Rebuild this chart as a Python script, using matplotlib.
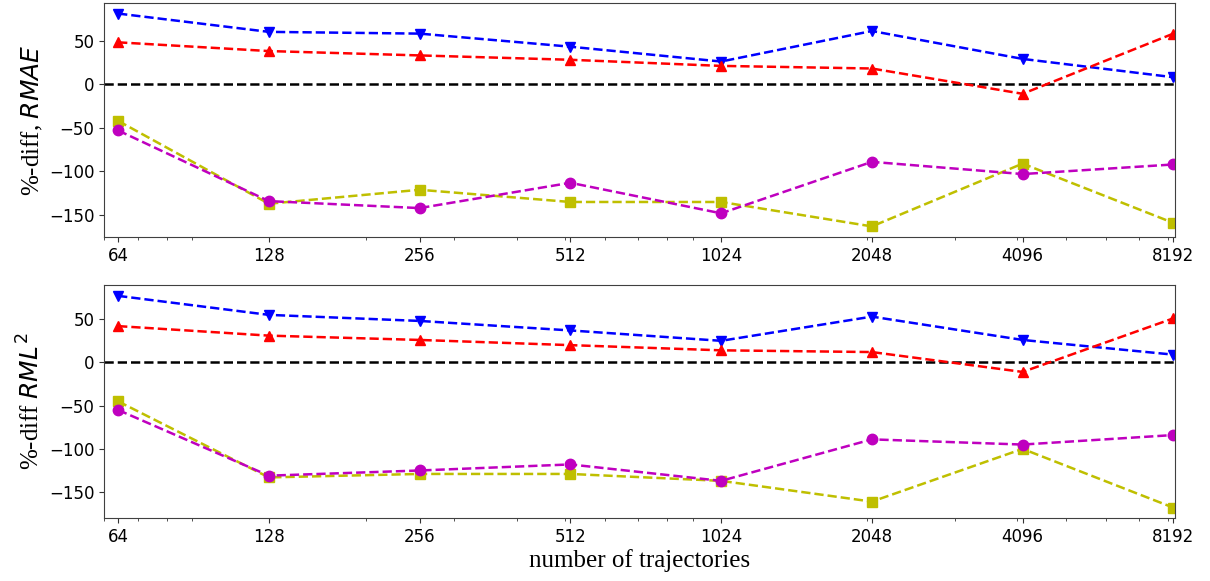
import matplotlib
matplotlib.use("Agg")
import matplotlib.pyplot as plt
from matplotlib.ticker import NullFormatter

n_traj = [64, 128, 256, 512, 1024, 2048, 4096, 8192]
tick_labels = ["64", "128", "256", "512", "1024", "2048", "4096", "8192"]

# top panel: %-diff RMAE
rmae_blue = [81, 60, 58, 43, 26, 61, 29, 8]
rmae_red = [48, 38, 33, 28, 21, 18, -11, 58]
rmae_yellow = [-42, -137, -121, -135, -135, -163, -91, -159]
rmae_magenta = [-53, -134, -142, -113, -148, -89, -103, -92]

# bottom panel: %-diff RML^2
rml_blue = [77, 55, 48, 37, 25, 53, 26, 9]
rml_red = [42, 31, 26, 20, 14, 12, -11, 51]
rml_yellow = [-45, -133, -129, -129, -137, -161, -100, -168]
rml_magenta = [-55, -131, -125, -118, -137, -89, -95, -84]

fig = plt.figure(figsize=(12.1, 5.81), dpi=100)
ax1 = fig.add_axes([0.086, 0.592, 0.885, 0.403])
ax2 = fig.add_axes([0.086, 0.108, 0.885, 0.401])

lw = 1.8
ms = 7.5

def draw(ax, b, r, y, m, ylabel):
    ax.axhline(0, color="k", linestyle="--", linewidth=lw)
    ax.plot(n_traj, b, "b--v", linewidth=lw, markersize=ms)
    ax.plot(n_traj, r, "r--^", linewidth=lw, markersize=ms)
    ax.plot(n_traj, y, "y--s", linewidth=lw, markersize=ms)
    ax.plot(n_traj, m, "m--o", linewidth=lw, markersize=ms)
    ax.set_xscale("log")
    ax.set_xticks(n_traj)
    ax.set_xticklabels(tick_labels)
    ax.xaxis.set_minor_formatter(NullFormatter())
    ax.set_xlim(60, 8250)
    ax.set_yticks([-150, -100, -50, 0, 50])
    ax.tick_params(axis="both", which="major", labelsize=12, color="0.2")
    ax.tick_params(axis="x", which="minor", color="0.2")
    ax.set_ylabel(ylabel, family="Liberation Serif", fontsize=18, labelpad=3)
    for s in ax.spines.values():
        s.set_color("0.25")

draw(ax1, rmae_blue, rmae_red, rmae_yellow, rmae_magenta, "%-diff, $RMAE$")
draw(ax2, rml_blue, rml_red, rml_yellow, rml_magenta, "%-diff $RML^2$")
ax2.set_xlabel("number of trajectories", family="Liberation Serif", fontsize=18, labelpad=2)

fig.savefig("out.png", dpi=100)
